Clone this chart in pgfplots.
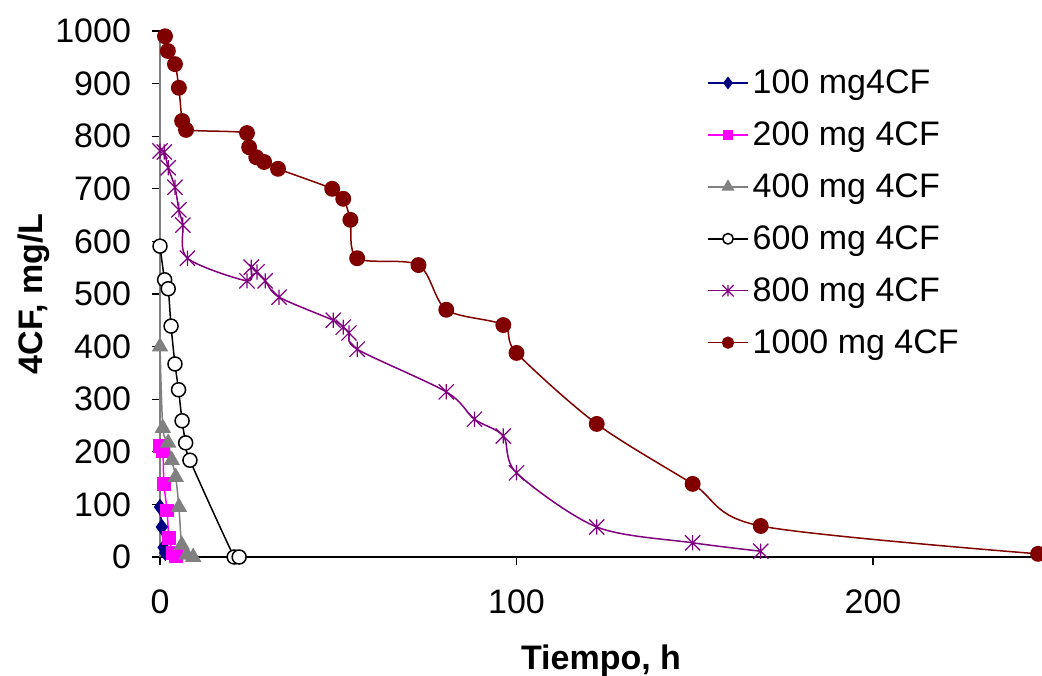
\documentclass[border=0pt]{standalone}
\usepackage{fontspec}
\setmainfont{Liberation Sans}
\usepackage{pgfplots}
\pgfplotsset{compat=1.18}
\definecolor{cnavy}{RGB}{0,0,128}
\definecolor{cmag}{RGB}{255,0,255}
\definecolor{cgray}{RGB}{128,128,128}
\definecolor{cpurple}{RGB}{128,0,128}
\definecolor{cdred}{RGB}{128,0,0}
\pgfdeclareplotmark{xstar}{%
  \pgfpathmoveto{\pgfqpoint{0pt}{\pgfplotmarksize}}%
  \pgfpathlineto{\pgfqpoint{0pt}{-\pgfplotmarksize}}%
  \pgfpathmoveto{\pgfqpoint{-\pgfplotmarksize}{\pgfplotmarksize}}%
  \pgfpathlineto{\pgfqpoint{\pgfplotmarksize}{-\pgfplotmarksize}}%
  \pgfpathmoveto{\pgfqpoint{-\pgfplotmarksize}{-\pgfplotmarksize}}%
  \pgfpathlineto{\pgfqpoint{\pgfplotmarksize}{\pgfplotmarksize}}%
  \pgfusepathqstroke}
\begin{document}
\begin{tikzpicture}
\path[use as bounding box] (0,0) rectangle (521pt,337.5pt);
\begin{axis}[
  at={(80pt,59pt)}, anchor=south west,
  scale only axis, width=441pt, height=263pt,
  xmin=0, xmax=247.4, ymin=0, ymax=1000,
  clip=false,
  axis x line*=bottom, axis y line*=left,
  x axis line style={black, line width=0.6pt, -},
  y axis line style={cgray, line width=1.2pt, -},
  xtick={0,100,200}, ytick={0,100,...,1000},
  tick align=outside, major tick length=4pt,
  tick style={black, line width=0.6pt},
  minor tick num=0,
  /pgf/number format/assume math mode=true,
  /pgf/number format/1000 sep={},
  ticklabel style={font=\fontsize{17}{20}\selectfont},
  yticklabel style={xshift=-7pt},
  xticklabel style={yshift=-9pt},
  xlabel={\textbf{Tiempo, h}}, ylabel={\textbf{4CF, mg/L}},
  label style={font=\fontsize{17}{20}\selectfont},
  xlabel style={yshift=-8.5pt},
  ylabel style={yshift=-4pt},
  legend style={draw=none, fill=none, at={(rel axis cs:0.62,0.935)}, anchor=north west,
    font=\fontsize{17}{20}\selectfont, row sep=8.6pt, inner sep=0pt},
  legend cell align=left,
  legend image code/.code={\draw[mark repeat=2, mark phase=2, every mark/.append style={scale=0.75}] plot coordinates {(0pt,0pt)(10pt,0pt)(20pt,0pt)};},
  every axis plot/.append style={line width=0.75pt, smooth},
]
\addplot[cnavy, mark=diamond*, mark size=3.5pt, mark options={fill=cnavy, draw=cnavy}] coordinates {
(0,95)(0.5,57)(1,18)(1.5,8)};
\addlegendentry{100 mg4CF}
\addplot[cmag, mark=square*, mark size=3pt, mark options={fill=cmag, draw=cmag}] coordinates {
(0,211)(0.8,202)(1.1,139)(2,88)(2.5,36)(3.7,8)(4.5,2)};
\addlegendentry{200 mg 4CF}
\addplot[cgray, mark=triangle*, mark size=4pt, mark options={fill=cgray, draw=cgray}] coordinates {
(0,400)(0.8,245)(2.3,217)(3.3,184)(4.4,152)(5.3,95)(6.1,23)(7.5,4)(9.3,0)};
\addlegendentry{400 mg 4CF}
\addplot[black, mark=*, mark size=3.5pt, mark options={fill=white, draw=black}] coordinates {
(0,591)(1.3,527)(2.3,510)(3.1,439)(4.2,367)(5.2,318)(6.2,259)(7.2,217)(8.4,184)(20.8,0)(22.2,0)};
\addlegendentry{600 mg 4CF}
\addplot[cpurple, mark=xstar, mark size=3.8pt, mark options={draw=cpurple, line width=0.6pt}] coordinates {
(0,772)(1.2,770)(2.3,740)(4.2,703)(5.3,660)(6.4,631)(7.7,568)(24.4,525)(25.6,551)(27.2,542)(29.5,525)(33.4,494)(48.6,450)(51.4,437)(53,426)(55.3,395)(80.3,314)(88.2,262)(96.3,230)(100,160)(122.5,57)(149.4,27)(168.5,11)};
\addlegendentry{800 mg 4CF}
\addplot[cdred, mark=*, mark size=3.6pt, mark options={fill=cdred, draw=cdred}] coordinates {
(1.4,990)(2.2,962)(4.2,937)(5.3,892)(6.2,829)(7.3,812)(24.4,806)(25,779)(27,760)(29.2,751)(33.1,738)(48.3,700)(51.4,681)(53.4,641)(55.3,568)(72.5,555)(80.3,470)(96.3,441)(100,388)(122.5,253)(149.4,139)(168.5,59)(246.3,6)};
\addlegendentry{1000 mg 4CF}
\end{axis}
\end{tikzpicture}
\end{document}
